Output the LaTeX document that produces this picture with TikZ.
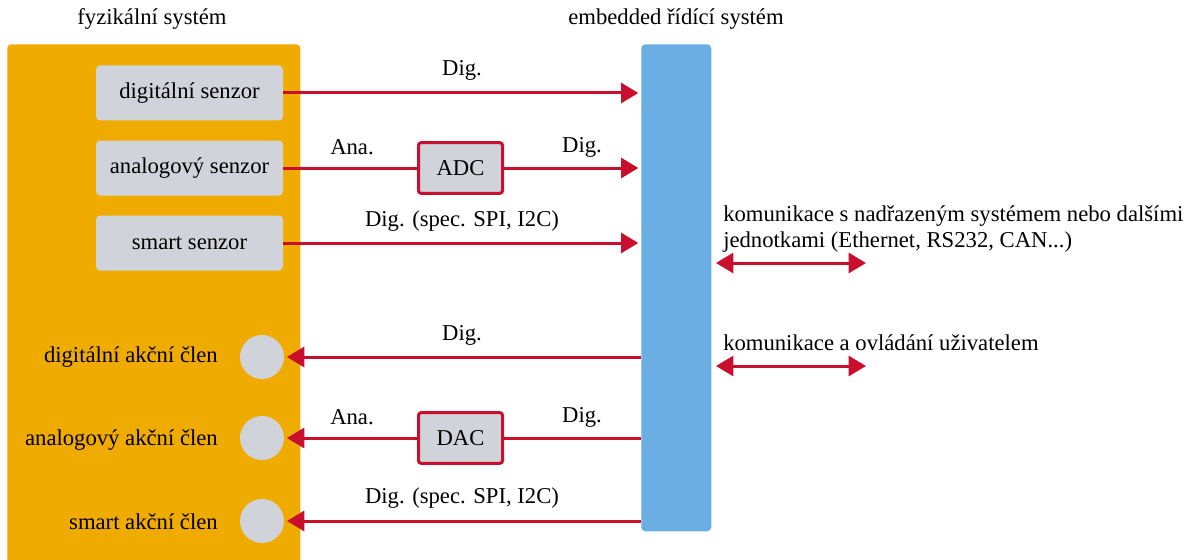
\documentclass[tikz,border=0pt]{standalone}
\usepackage{fontspec}
\setmainfont{Liberation Serif}
\usetikzlibrary{arrows.meta}
\definecolor{orng}{HTML}{F0AB00}
\definecolor{blu}{HTML}{6AAEE3}
\definecolor{gry}{HTML}{D0D3DA}
\definecolor{crim}{HTML}{C8102E}
\tikzset{
  lbl/.style={font=\fontsize{17pt}{19.5pt}\selectfont, inner sep=0pt},
  sensbox/.style={fill=gry, rounded corners=3pt, minimum width=140.25pt, minimum height=41.25pt, font=\fontsize{17pt}{19.5pt}\selectfont},
  conv/.style={fill=gry, draw=crim, line width=2.25pt, rounded corners=2pt, minimum width=63pt, minimum height=38pt, font=\fontsize{17pt}{19.5pt}\selectfont},
  act/.style={circle, fill=gry, minimum size=33pt, inner sep=0pt},
  wire/.style={draw=crim, line width=2.25pt},
  arr/.style={wire, -{Triangle[length=13pt,width=15pt]}},
  barr/.style={wire, {Triangle[length=13pt,width=15pt]}-{Triangle[length=13pt,width=15pt]}},
}
\begin{document}
\begin{tikzpicture}[x=0.75pt,y=-0.75pt]
\useasboundingbox (0,0) rectangle (1193,560);
% big blocks
\node[fill=orng, rounded corners=3pt, minimum width=219.75pt, minimum height=400pt, anchor=north west, inner sep=0pt] (fyz) at (7,44) {};
\node[fill=blu, rounded corners=3pt, minimum width=52.5pt, minimum height=365.25pt, anchor=north west, inner sep=0pt] (emb) at (641,44) {};
\node[lbl] (t1) at (152,19) {fyzikální systém};
\node[lbl] (t2) at (676,19) {embedded řídící systém};
% sensors
\node[sensbox] (s1) at (189.5,93) {digitální senzor};
\node[sensbox] (s2) at (189.5,168) {analogový senzor};
\node[sensbox] (s3) at (189.5,243) {smart senzor};
\node[conv] (adc) at (460.5,168) {ADC};
\coordinate (e1) at (s1.east -| emb.west);
\coordinate (e2) at (s2.east -| emb.west);
\coordinate (e3) at (s3.east -| emb.west);
\draw[arr, shorten >=2pt] (s1.east) -- (e1);
\draw[wire] (s2.east) -- (adc.west);
\draw[arr, shorten >=2pt] (adc.east) -- (e2);
\draw[arr, shorten >=2pt] (s3.east) -- (e3);
\node[lbl] (l1) at (462,70) {Dig.};
\node[lbl] (l2) at (352,147) {Ana.};
\node[lbl] (l3) at (582,147) {Dig.};
\node[lbl] (l4) at (462,221) {Dig. (spec. SPI, I2C)};
% actuators
\node[act] (a1) at (262,357) {};
\node[act] (a2) at (262,438) {};
\node[act] (a3) at (262,521) {};
\node[lbl, anchor=east] (al1) at (218,357) {digitální akční člen};
\node[lbl, anchor=east] (al2) at (218,440) {analogový akční člen};
\node[lbl, anchor=east] (al3) at (218,522) {smart akční člen};
\node[conv] (dac) at (460.5,438) {DAC};
\coordinate (f1) at (a1.east -| emb.west);
\coordinate (f2) at (a2.east -| emb.west);
\coordinate (f3) at (a3.east -| emb.west);
\draw[arr, shorten >=2pt] (f1) -- (a1.east);
\draw[wire] (f2) -- (dac.east);
\draw[arr, shorten >=2pt] (dac.west) -- (a2.east);
\draw[arr, shorten >=2pt] (f3) -- (a3.east);
\node[lbl] (m1) at (462,335) {Dig.};
\node[lbl] (m2) at (352,417) {Ana.};
\node[lbl] (m3) at (582,417) {Dig.};
\node[lbl] (m4) at (462,498) {Dig. (spec. SPI, I2C)};
% communication
\node[lbl, anchor=north west, align=left] (k1) at (723,205) {komunikace s nadřazeným systémem nebo dalšími\\jednotkami (Ethernet, RS232, CAN...)};
\coordinate (b1a) at (716,263);
\coordinate (b1b) at (866,263);
\draw[barr] (b1a) -- (b1b);
\node[lbl, anchor=west] (k2) at (723,343) {komunikace a ovládání uživatelem};
\coordinate (b2a) at (716,366);
\coordinate (b2b) at (866,366);
\draw[barr] (b2a) -- (b2b);
\end{tikzpicture}
\end{document}
